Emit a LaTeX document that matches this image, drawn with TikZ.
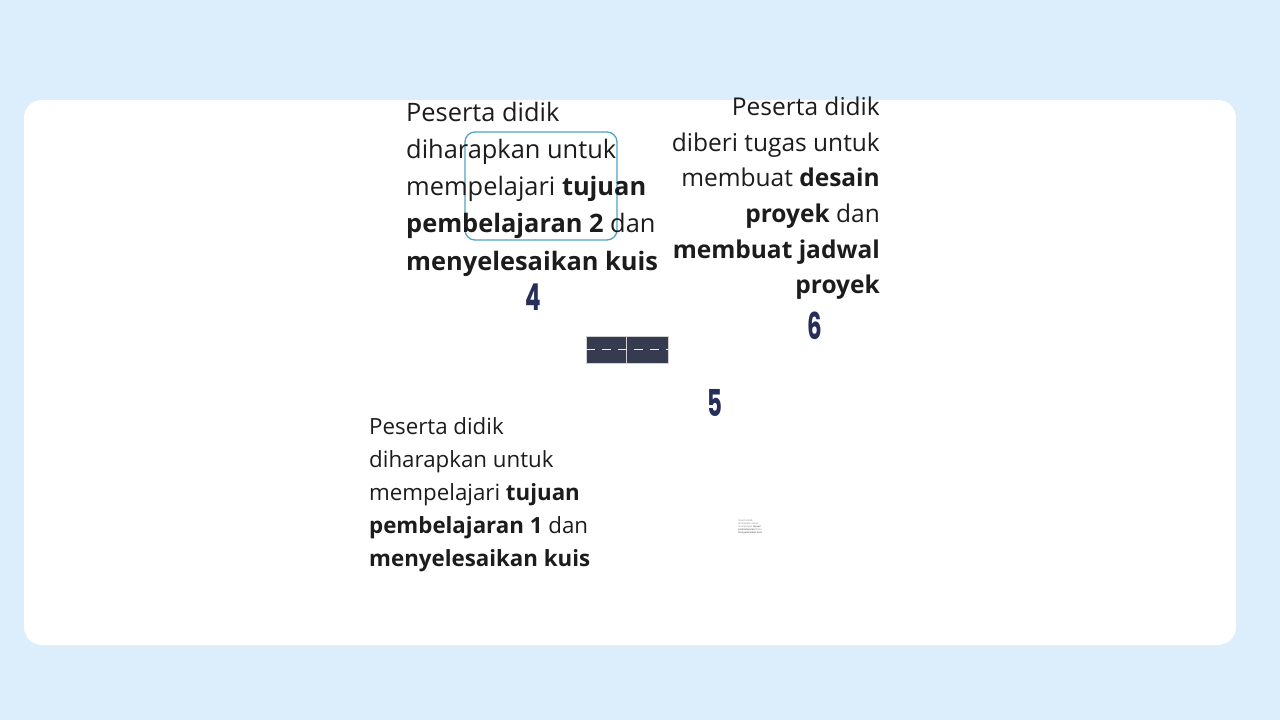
\documentclass[tikz,border=0pt]{standalone}
\usepackage{fontspec}
\setmainfont{Open Sans}
\newfontfamily\numfont{Poppins}
\usepackage{graphicx}
\definecolor{bgblue}{HTML}{DCEDFB}
\definecolor{navy}{HTML}{262F58}
\definecolor{roadc}{HTML}{363B4F}
\definecolor{framec}{HTML}{4FA4C2}
\definecolor{txt}{HTML}{1C1C1C}
\tikzset{
  desc/.style={inner sep=0pt, text=txt},
  num/.style={inner sep=0pt, text=navy, font=\numfont\bfseries\fontsize{37}{37}\selectfont},
  road/.style={fill=roadc, draw=gray!35, line width=1pt},
  lane/.style={draw=white!85!gray, line width=1.5pt, dash pattern=on 9pt off 7pt}
}
\begin{document}
\begin{tikzpicture}[x=1pt,y=-1pt]
\useasboundingbox (0,0) rectangle (1280,720);
\fill[bgblue] (0,0) rectangle (1280,720);
\fill[white, rounded corners=18pt] (24,100) rectangle (1236,645);

% frame
\draw[framec, line width=1.3pt, rounded corners=10pt] (465,132) rectangle (617,240);

% top-left text
\node[desc, anchor=north west, align=left, font=\fontsize{25.4}{37.3}\selectfont] (t4) at (406,101.5)
{Peserta didik\\diharapkan untuk\\mempelajari \textbf{tujuan}\\\textbf{pembelajaran 2} dan\\\textbf{menyelesaikan kuis}};

% top-right text
\node[desc, anchor=north east, align=right, font=\fontsize{24.5}{35.7}\selectfont] (t6) at (880,96.5)
{Peserta didik\\diberi tugas untuk\\membuat \textbf{desain}\\\textbf{proyek} dan\hspace{0.3em}\\\textbf{membuat jadwal}\\\textbf{proyek}};

% bottom-left text
\node[desc, anchor=north west, align=left, font=\fontsize{22.3}{33}\selectfont] (t5) at (369,417.5)
{Peserta didik\\diharapkan untuk\\mempelajari \textbf{tujuan}\\\textbf{pembelajaran 1} dan\\\textbf{menyelesaikan kuis}};

% numbers
\node[num] (n4) at (533,297) {\scalebox{0.62}[1]{4}};
\node[num] (n6) at (815,326) {\scalebox{0.62}[1]{6}};
\node[num] (n5) at (715,403) {\scalebox{0.62}[1]{5}};

% road icon
\node[road, minimum width=40pt, minimum height=27pt, inner sep=0pt] (r1) at (606,349.5) {};
\node[road, minimum width=42pt, minimum height=27pt, inner sep=0pt] (r2) at (647,349.5) {};
\draw[lane] (r1.west) -- (r2.east);

% tiny text
\node[desc, anchor=north west, align=left, font=\fontsize{2.4}{3.2}\selectfont, text=gray] (tiny) at (738,519)
{Peserta didik\\diharapkan untuk\\mempelajari \textbf{tujuan}\\\textbf{pembelajaran 3} dan\\\textbf{menyelesaikan kuis}};
\end{tikzpicture}
\end{document}
